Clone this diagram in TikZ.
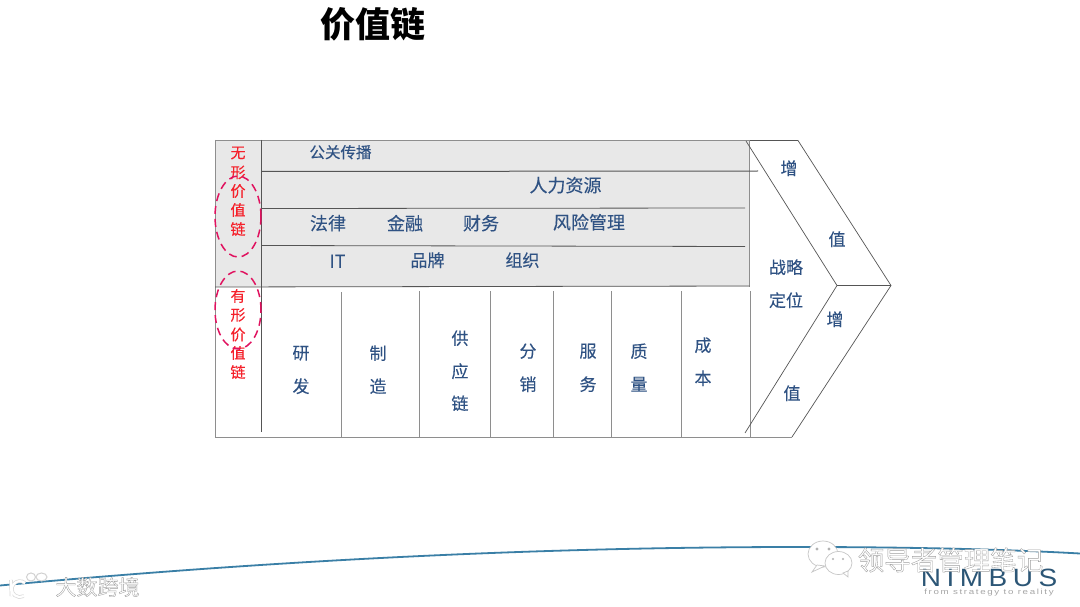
\documentclass[tikz,border=0pt]{standalone}
\usepackage{fontspec}
\setmainfont{Noto Sans CJK SC}
\newfontfamily\bodyfont[FakeBold=0.15]{Noto Sans CJK SC}
\newfontfamily\nimfont[LetterSpace=22,FakeStretch=1.12]{Liberation Sans}
\newfontfamily\tagfont[LetterSpace=22,FakeStretch=1.3]{Liberation Sans}
\usetikzlibrary{shapes.geometric}
\definecolor{txtblue}{HTML}{2F5283}
\definecolor{redtxt}{HTML}{F5212B}
\definecolor{dashpink}{HTML}{E0125F}
\definecolor{panel}{HTML}{E8E8E8}
\definecolor{lineg}{HTML}{8E8E8E}
\definecolor{lined}{HTML}{555555}
\definecolor{curve}{HTML}{3A7FA6}
\definecolor{nimblue}{HTML}{2C5676}
\newcommand{\wmark}[1]{\special{pdf:code q 2 Tr 0.35 w 0.62 0.62 0.62 RG 1 1 1 rg}#1\special{pdf:code Q}}
\tikzset{
  x=1pt,y=-1pt,
  lab/.style={inner sep=0pt,yshift=-0.2pt,text=txtblue,font=\fontsize{17}{17}\bodyfont},
  labs/.style={lab,font=\fontsize{15.5}{16}\bodyfont},
  labm/.style={lab,font=\fontsize{18}{18}\bodyfont},
  redlab/.style={inner sep=0pt,text=redtxt,font=\fontsize{15}{15}\bodyfont},
  grid/.style={draw=lineg,line width=1pt},
  rule/.style={draw=lined,line width=0.8pt},
  chev/.style={draw=lined,line width=0.7pt},
  ring/.style={ellipse,draw=dashpink,line width=1.5pt,dash pattern=on 8pt off 5pt,minimum width=46pt,inner sep=0pt},
  wm/.style={inner sep=0pt}
}
\begin{document}
\begin{tikzpicture}
\useasboundingbox (0,0) rectangle (1080,607);
\fill[white] (0,0) rectangle (1080,607);
% panel
\fill[panel] (215,140) rectangle (749.5,287);
\draw[grid] (215,140.5) -- (749.5,140.5) -- (749.5,287);
\draw[grid] (215,140) -- (215,437) -- (792,437);
\draw[rule] (261.5,140) -- (261.5,432);
\draw[rule] (215,287) -- (749.5,286);
\draw[rule,line width=1pt] (262,171.5) -- (758,171);
\draw[rule] (262,208.5) -- (745,208);
\draw[rule] (262,245.5) -- (745,246.5);
% columns
\foreach \cx/\cy in {341.5/292,419/291,490/291,553/291,611/291,681/291,750/291}
  \draw[grid] (\cx,\cy) -- (\cx,437);
% chevron
\coordinate (oa) at (750,140.5);
\coordinate (ob) at (798,140.5);
\coordinate (oc) at (891,285.5);
\coordinate (od) at (792,437);
\coordinate (ia) at (746,141);
\coordinate (ib) at (837,285.5);
\coordinate (ic) at (745,433);
\draw[chev] (oa) -- (ob) -- (oc) -- (od);
\draw[chev] (ia) -- (ib) -- (ic);
\draw[chev] (ib) -- (oc);
% title
\node[inner sep=0pt,font=\fontsize{35}{35}\selectfont\bfseries] (title) at (372.5,24) {价值链};
% support rows
\node[labs] (pr) at (340.5,152) {公关传播};
\node[labm] (hr) at (565.5,185) {人力资源};
\node[labm] (law) at (328,223) {法律};
\node[labm] (fin) at (405,223) {金融};
\node[labm] (acc) at (481,223) {财务};
\node[labm] (risk) at (589,222) {风险管理};
\node[labm] (it) at (337.5,261) {IT};
\node[lab] (brand) at (427.5,260) {品牌};
\node[lab] (org) at (522.5,260) {组织};
% columns text
\foreach \n/\px/\py/\t in {a1/301/353/研,a2/301/386/发,b1/378/353/制,b2/378/386/造,c1/460/338/供,c2/460/371/应,c3/460/403/链,d1/528/351/分,d2/528/384/销,e1/588/351/服,e2/588/384/务,f1/639/351/质,f2/639/384/量,g1/703/345/成,g2/703/378/本,h1/789/168/增,h2/837/239/值,h3/835/319/增,h4/792/393/值}
  \node[lab] (\n) at (\px,\py) {\t};
\node[lab] (st1) at (786,267) {战略};
\node[lab] (st2) at (786,300) {定位};
% red labels
\foreach \n/\py/\t in {r1/153/无,r2/172.5/形,r3/191/价,r4/210/值,r5/229/链,s1/296/有,s2/315/形,s3/334.5/价,s4/353/值,s5/372/链}
  \node[redlab] (\n) at (238,\py) {\t};
% dashed rings
\node[ring,minimum height=81pt] (ring1) at (238,216.5) {};
\node[ring,minimum height=78pt] (ring2) at (238,310) {};
% footer curve
\draw[curve,line width=1.8pt] (0,585.5) .. controls (300,558) and (560,547) .. (800,547) .. controls (900,547) and (1000,549) .. (1080,553.5);
% Nimbus
\node[inner sep=0pt,text=nimblue,font=\fontsize{25}{25}\nimfont] (nim) at (989,577.5) {NIMBUS};
\node[inner sep=0pt,text=gray!70,font=\fontsize{7.5}{8}\tagfont] (tag) at (989,592.5) {from strategy to reality};
% watermarks
\begin{scope}[draw=gray!45,fill=white,line width=0.7pt]
  \filldraw (823,554) ellipse (15pt and 13pt);
  \filldraw (817,565) -- (812,572) -- (825,566) -- cycle;
  \filldraw (838.5,563) ellipse (13.5pt and 11.5pt);
  \filldraw (843,573) -- (848,577) -- (848,571) -- cycle;
  \fill[gray!60] (817,549) circle (1.6pt) (829,549) circle (1.6pt);
  \fill[gray!60] (833,559) circle (1.2pt) (843,559) circle (1.2pt);
  % left logo
  \draw[line width=3.6pt,draw=gray!30] (11,580) -- (11.5,596);
  \draw[line width=3.6pt,draw=gray!30] (25,583) arc[start angle=50,end angle=300,radius=8pt];
  \draw[line width=2.2pt,draw=white] (11,580) -- (11.5,596);
  \draw[line width=2.2pt,draw=white] (25,583) arc[start angle=50,end angle=300,radius=8pt];
  \filldraw[line width=1pt,draw=gray!35] (31,577) ellipse (4.5pt and 4pt);
  \filldraw[line width=1pt,draw=gray!35] (41.5,577) ellipse (5.5pt and 4pt);
\end{scope}
\node[wm,font=\fontsize{26.5}{27}\selectfont] (wx) at (950.5,560) {\wmark{领导者管理笔记}};
\node[wm,font=\fontsize{21}{21}\selectfont] (dk) at (97.5,587) {\wmark{大数跨境}};
\end{tikzpicture}
\end{document}
